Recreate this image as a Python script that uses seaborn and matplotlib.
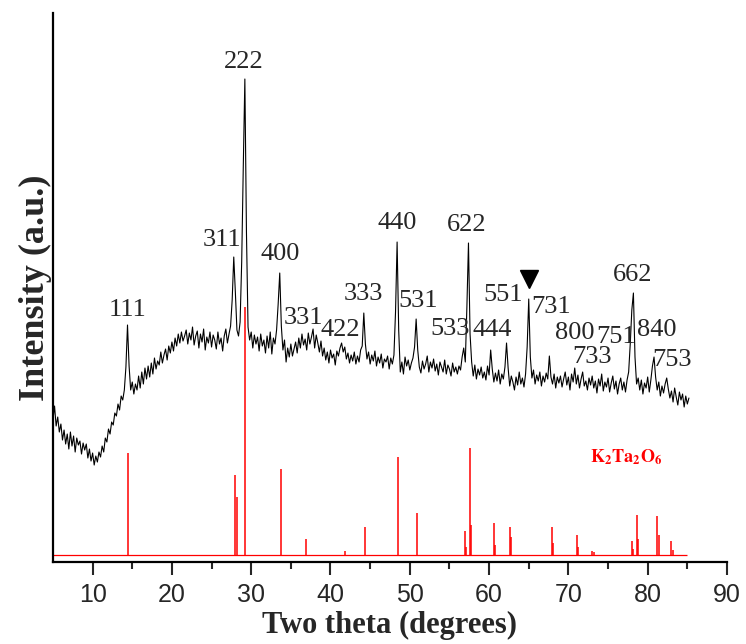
import numpy as np
import pandas as pd
import matplotlib
matplotlib.use("Agg")
import matplotlib.pyplot as plt
import seaborn as sns

# measured XRD scan, 2theta from 5.0 deg in 0.2 deg steps (a.u.)
scan_start = 5.0
scan_step = 0.2
intensity = [
    142, 156, 136, 145, 130, 138, 122, 132, 118, 128,   # 5.0
    113, 130, 116, 126, 110, 124, 117, 121, 108, 119,   # 7.0
    112, 118, 104, 113, 101, 109, 97, 106, 100, 110,    # 9.0
    105, 116, 110, 124, 120, 133, 128, 140, 137, 149,   # 11.0
    146, 158, 152, 166, 162, 172, 195, 237, 196, 172,   # 13.0
    180, 168, 178, 172, 186, 174, 190, 178, 194, 183,   # 15.0
    196, 185, 199, 188, 204, 193, 201, 197, 210, 199,   # 17.0
    207, 213, 202, 216, 209, 220, 211, 224, 216, 228,   # 19.0
    219, 230, 221, 226, 232, 218, 229, 222, 235, 217,   # 21.0
    226, 231, 214, 228, 220, 233, 212, 225, 219, 230,   # 23.0
    215, 227, 222, 213, 230, 218, 224, 211, 226, 233,   # 25.0
    219, 228, 236, 262, 305, 270, 232, 226, 240, 300,   # 27.0
    395, 483, 330, 235, 222, 230, 214, 227, 218, 225,   # 29.0
    211, 228, 216, 222, 209, 226, 214, 230, 208, 224,   # 31.0
    218, 232, 258, 289, 236, 212, 222, 200, 214, 205,   # 33.0
    218, 206, 213, 220, 209, 224, 214, 228, 217, 223,   # 35.0
    212, 229, 218, 225, 233, 214, 227, 219, 210, 221,   # 37.0
    206, 214, 202, 210, 199, 212, 204, 208, 197, 211,   # 39.0
    206, 214, 219, 210, 215, 203, 209, 199, 207, 201,   # 41.0
    210, 198, 206, 200, 212, 216, 249, 218, 203, 210,   # 43.0
    198, 207, 201, 211, 196, 205, 199, 208, 194, 203,   # 45.0
    200, 206, 193, 204, 198, 207, 250, 320, 232, 190,   # 47.0
    200, 188, 205, 196, 202, 192, 199, 204, 215, 243,   # 49.0
    212, 195, 189, 201, 193, 198, 206, 190, 200, 194,   # 51.0
    203, 191, 198, 187, 200, 195, 190, 202, 188, 197,   # 53.0
    193, 186, 199, 190, 195, 188, 196, 192, 205, 214,   # 55.0
    200, 255, 319, 228, 200, 186, 197, 183, 193, 187,   # 57.0
    195, 184, 190, 182, 196, 187, 212, 193, 180, 189,   # 59.0
    181, 192, 178, 188, 183, 195, 219, 194, 176, 186,   # 61.0
    180, 172, 185, 177, 190, 178, 184, 175, 188, 215,   # 63.0
    263, 205, 184, 192, 178, 187, 181, 190, 176, 186,   # 65.0
    180, 189, 183, 206, 185, 178, 188, 174, 185, 179,   # 67.0
    186, 175, 183, 190, 177, 185, 172, 188, 180, 194,   # 69.0
    178, 187, 174, 183, 190, 176, 181, 172, 184, 177,   # 71.0
    186, 174, 181, 169, 183, 176, 188, 171, 180, 175,   # 73.0
    184, 170, 179, 186, 173, 181, 168, 178, 184, 172,   # 75.0
    180, 170, 182, 190, 218, 252, 269, 205, 178, 184,   # 77.0
    172, 182, 168, 179, 174, 185, 170, 182, 196, 205,   # 79.0
    185, 172, 180, 166, 176, 169, 178, 184, 173, 164,   # 81.0
    171, 160, 174, 165, 157, 170, 162, 168, 155, 166,   # 83.0
    158, 164,                                           # 85.0
]

# reference pattern K2Ta2O6 (stick positions and heights)
ref_pos = [14.4, 28.0, 28.15, 29.2, 33.8, 36.9, 41.8, 44.3, 48.55, 50.9,
           56.9, 57.1, 57.6, 57.75, 60.6, 60.75, 62.6, 62.75, 67.9, 68.0,
           71.1, 71.2, 73.0, 73.2, 78.0, 78.2, 78.6, 78.8, 81.2, 81.4,
           83.0, 83.2]
ref_height = [102, 80, 58, 248, 86, 16, 4, 28, 98, 42,
              24, 8, 107, 30, 32, 10, 28, 18, 28, 12,
              20, 8, 4, 3, 14, 6, 40, 16, 39, 20,
              14, 5]
ref_base = 7
ref_range = (5.0, 85.0)

peak_labels = ["111", "311", "222", "400", "331", "422", "333", "440", "531",
               "533", "622", "444", "551", "731", "800", "733", "751", "662",
               "840", "753"]
label_xy = [(14.46, 252), (26.3, 322), (29.0, 500), (33.6, 308), (36.65, 244),
            (41.2, 232), (44.2, 268), (48.4, 339), (51.0, 261), (55.07, 233),
            (57.2, 337), (60.4, 232), (61.75, 267), (67.8, 255), (70.8, 229),
            (73.0, 205), (76.0, 225), (78.15, 287), (81.2, 232), (83.07, 202)]

two_theta = np.round(scan_start + scan_step * np.arange(len(intensity)), 1)
df = pd.DataFrame({"two_theta": two_theta, "intensity": intensity})

sns.set_style("ticks")
plt.rcParams["mathtext.fontset"] = "stix"

fig = plt.figure(figsize=(7.46, 6.44), dpi=100)
ax = fig.add_axes([0.0710, 0.1273, 0.9035, 0.8525])

sns.lineplot(data=df, x="two_theta", y="intensity", color="black",
             linewidth=0.8, estimator=None, ax=ax, zorder=3)

# reference sticks (behind the scan)
ax.hlines(ref_base, *ref_range, color="red", linewidth=0.9, zorder=2)
ax.vlines(ref_pos, ref_base, [ref_base + h for h in ref_height],
          color="red", linewidth=1.1, zorder=2)
ax.text(77.27, 105, r"$\mathbf{K_2Ta_2O_6}$", color="red", fontsize=13,
        ha="center", va="center")

for lab, (lx, ly) in zip(peak_labels, label_xy):
    ax.text(lx, ly, lab, fontsize=19, family="Liberation Serif",
            ha="center", va="center")
ax.plot([65.03], [283], marker="v", color="black", markersize=13,
        linestyle="none")

ax.set_xlim(5, 90)
ax.set_ylim(0, 549)
ax.set_xticks(range(10, 91, 10))
ax.set_xticks(range(15, 90, 10), minor=True)
ax.set_yticks([])
ax.tick_params(axis="x", which="major", direction="out", length=9, width=1.5,
               labelsize=18, pad=6)
ax.tick_params(axis="x", which="minor", direction="out", length=5, width=1.5)
for t in ax.get_xticklabels():
    t.set_family("Liberation Sans")
for side in ["top", "right"]:
    ax.spines[side].set_visible(False)
for side in ["left", "bottom"]:
    ax.spines[side].set_linewidth(1.6)
    ax.spines[side].set_color("black")

ax.set_xlabel("Two theta (degrees)", fontsize=22, fontweight="bold",
              family="Liberation Serif", labelpad=3)
ax.set_ylabel("Intensity (a.u.)", fontsize=26, fontweight="bold",
              family="Liberation Serif", labelpad=1)

fig.savefig("out.png", dpi=100)
